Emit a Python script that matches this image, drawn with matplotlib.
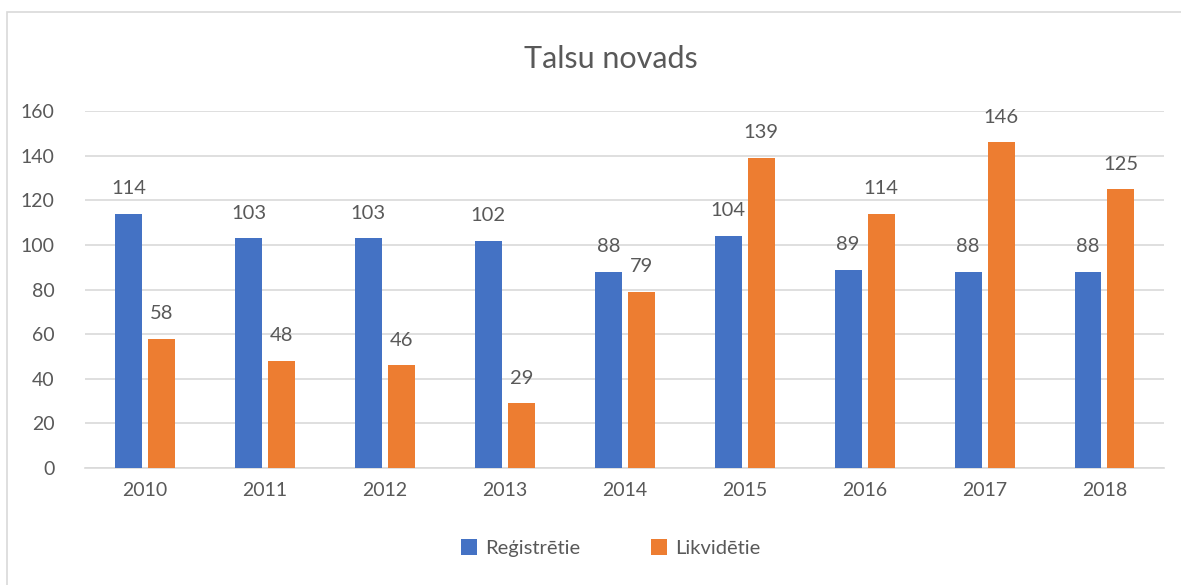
import numpy as np
import matplotlib.pyplot as plt
from matplotlib.patches import Rectangle

years = ["2010", "2011", "2012", "2013", "2014", "2015", "2016", "2017", "2018"]
registretie = [114, 103, 103, 102, 88, 104, 89, 88, 88]
likvidetie = [58, 48, 46, 29, 79, 139, 114, 146, 125]
yticks = [0, 20, 40, 60, 80, 100, 120, 140, 160]

plt.rcParams['font.family'] = ['Lato', 'DejaVu Sans']
text_col = "#595959"
blue = "#4472C4"
orange = "#ED7D31"

fig = plt.figure(figsize=(11.81, 5.85), dpi=100)
ax = fig.add_axes([0.072, 0.2, 0.914, 0.61])

x = np.arange(len(years))
w = 0.225
b1 = ax.bar(x - 0.1375, registretie, w, color=blue, label="Reģistrētie", zorder=3)
b2 = ax.bar(x + 0.1375, likvidetie, w, color=orange, label="Likvidētie", zorder=3)

for bars in (b1, b2):
    ax.bar_label(bars, padding=12, fontsize=14.5, color=text_col)

ax.set_xlim(-0.5, len(years) - 0.5)
ax.set_ylim(0, 160)
ax.set_yticks(yticks)
ax.set_xticks(x)
ax.set_xticklabels(years)
ax.tick_params(axis="both", length=0, labelsize=14, colors=text_col)
ax.tick_params(axis="y", pad=22)
ax.tick_params(axis="x", pad=10)
ax.grid(axis="y", color="#D9D9D9", linewidth=1.2, zorder=0)
for s in ["top", "right", "left"]:
    ax.spines[s].set_visible(False)
ax.spines["bottom"].set_color("#D9D9D9")
ax.spines["bottom"].set_linewidth(1.2)

fig.text(0.517, 0.9, "Talsu novads", ha="center", va="center", fontsize=22, color=text_col)

leg = fig.legend(loc="center", bbox_to_anchor=(0.517, 0.063), ncol=2, frameon=False,
                 fontsize=14.5, handlelength=0.8, handleheight=0.8, columnspacing=3.5,
                 handletextpad=0.4)
for t in leg.get_texts():
    t.set_color(text_col)

# chart border
fig.patches.append(Rectangle((7 / 1181, -0.1), 1.2, 1 - 12 / 585 + 0.1, transform=fig.transFigure,
                             fill=False, edgecolor="#D9D9D9", linewidth=1.2))

fig.savefig("out.png", dpi=100)
